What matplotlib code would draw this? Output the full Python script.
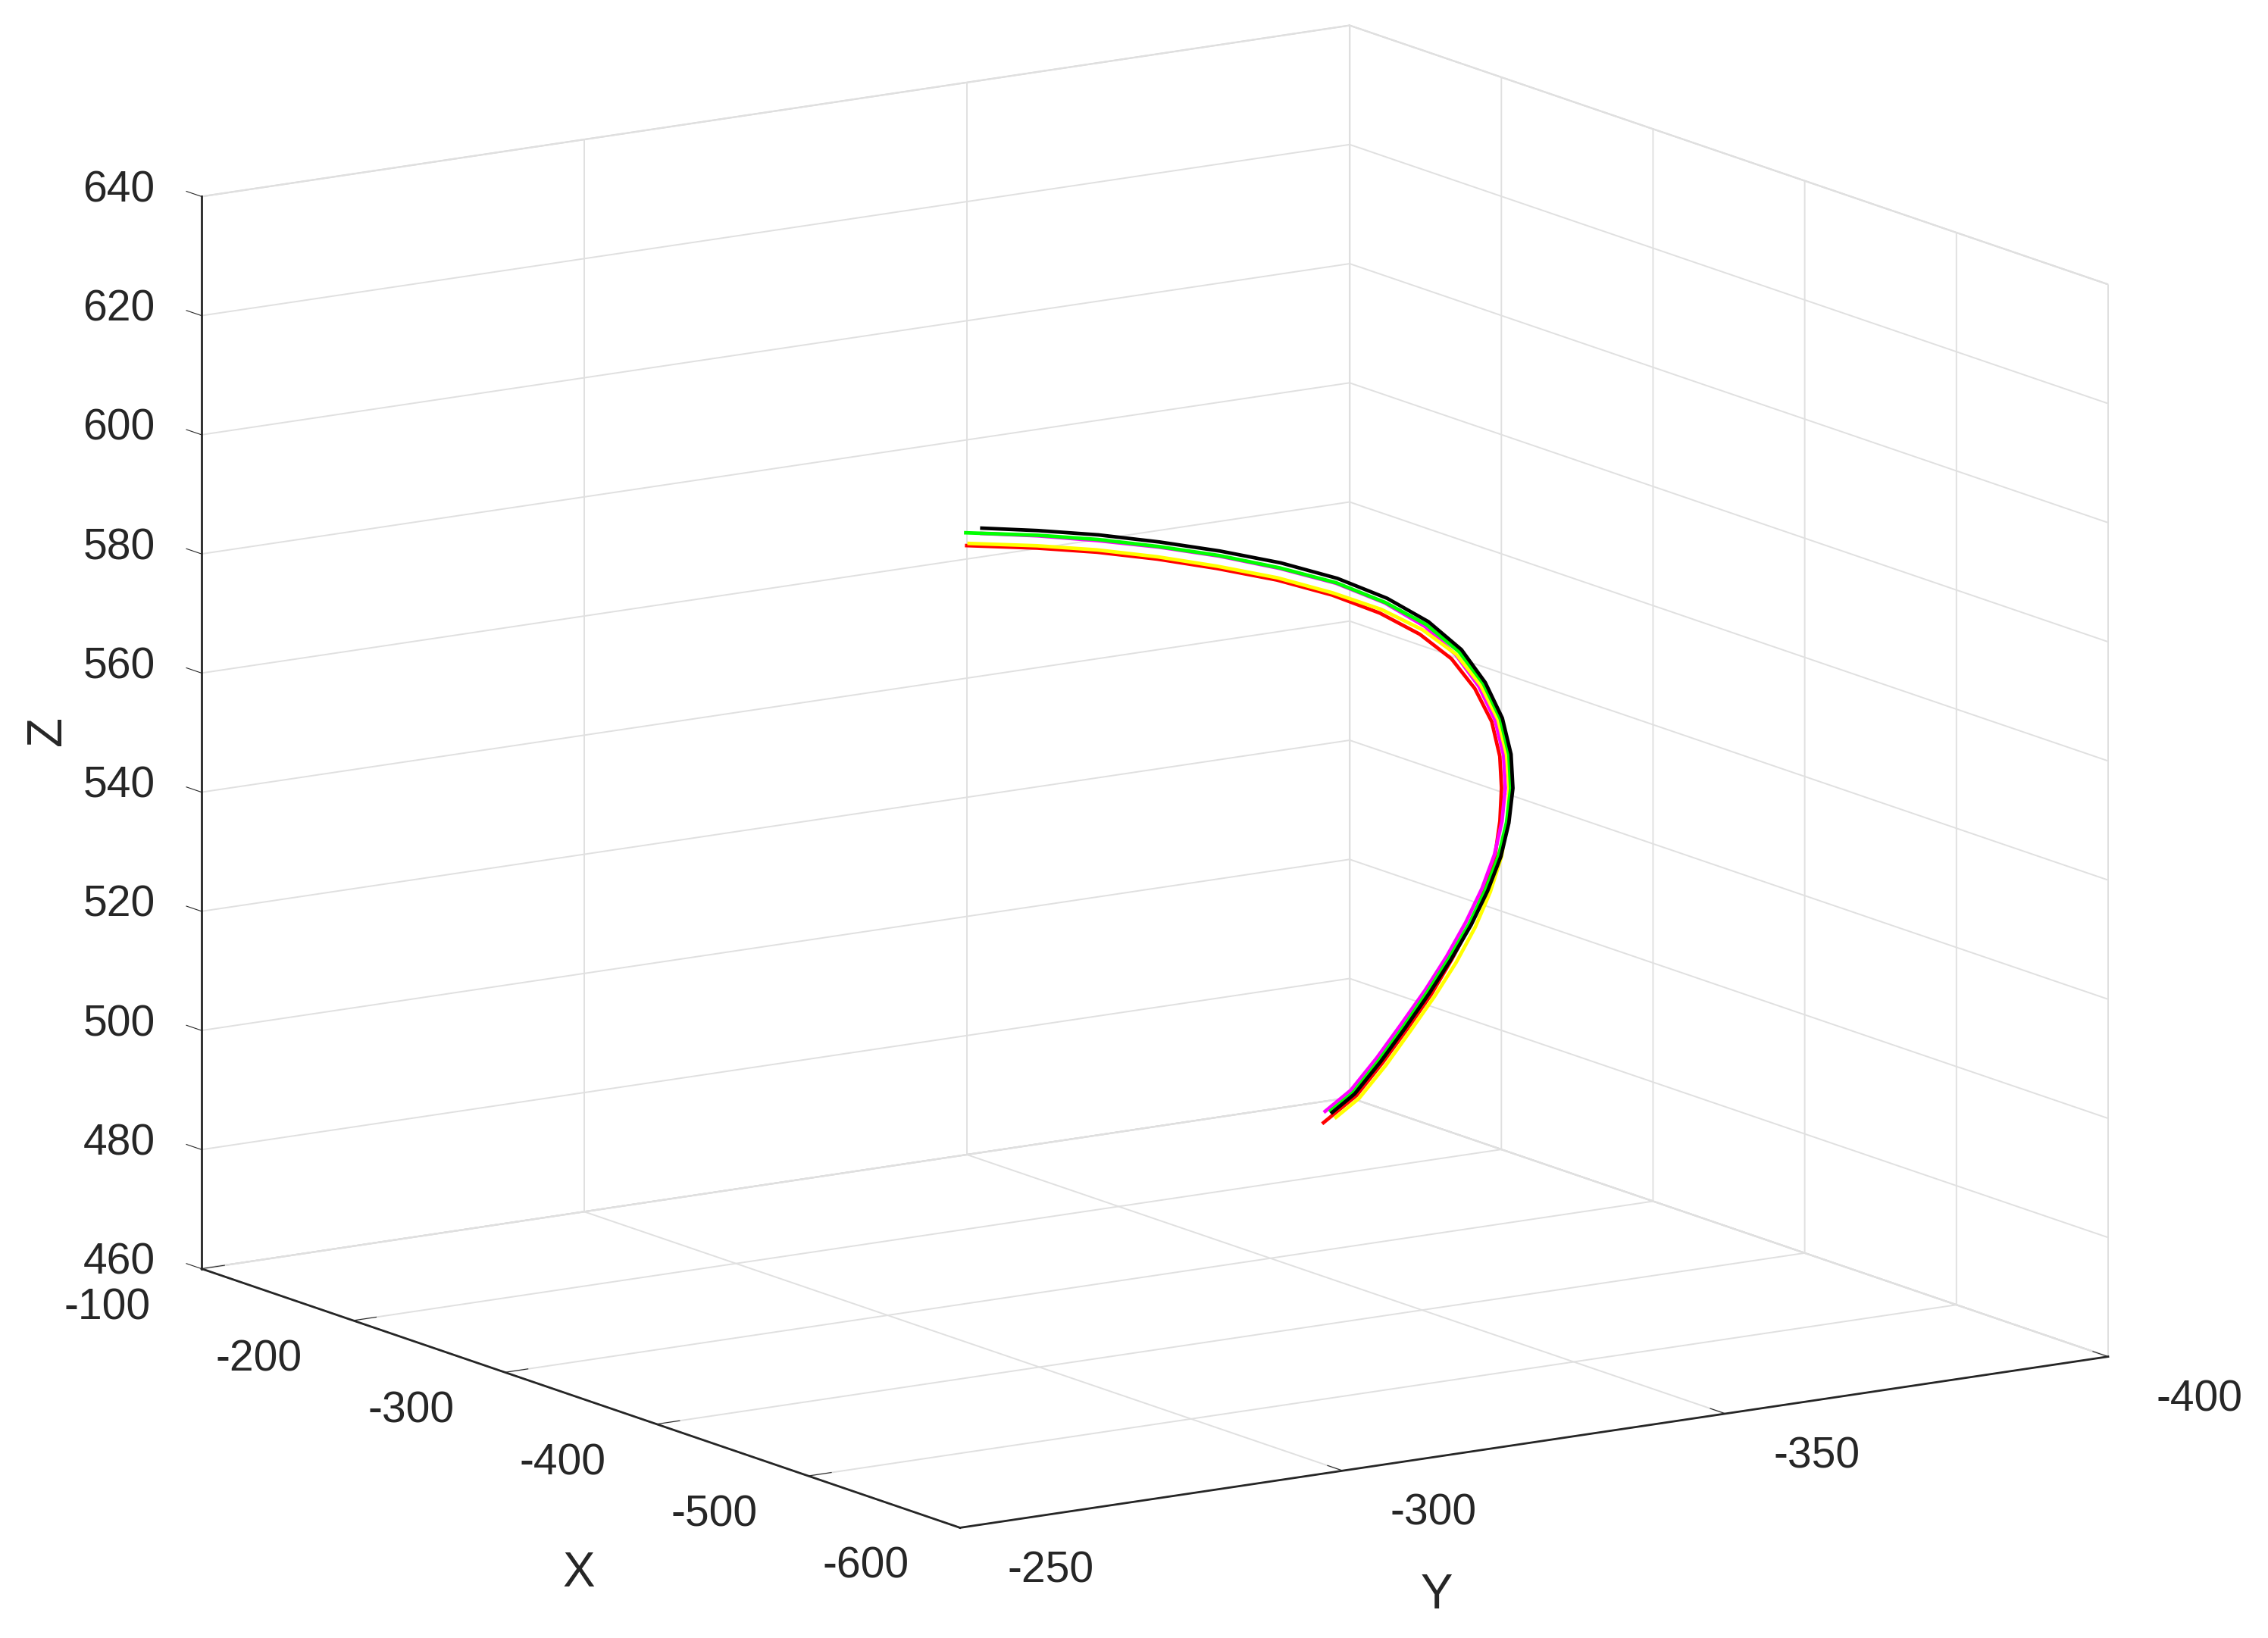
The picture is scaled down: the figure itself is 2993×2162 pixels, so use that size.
import numpy as np
import matplotlib
matplotlib.use("Agg")
import matplotlib.pyplot as plt
from matplotlib.ticker import NullFormatter
from mpl_toolkits.mplot3d import proj3d

plt.rcParams['font.family'] = ['Liberation Sans', 'DejaVu Sans']
plt.rcParams['axes.unicode_minus'] = False

# ---- data: five tracked trajectories (x, y, z) ----
traj_y = [-325.0, -325.8, -326.5, -327.3, -328.0, -328.8, -329.5, -330.3, -331.0, -331.8, -332.5, -333.3,
          -334.0, -334.8, -335.5, -336.3, -337.0, -337.8, -338.5, -339.3, -340.0, -340.8, -341.5, -342.3]

black_x = [-234.8, -269.0, -305.3, -341.5, -377.7, -413.9, -447.6, -476.4, -500.1, -517.8, -530.0, -537.2,
           -539.4, -536.6, -530.4, -521.1, -508.8, -494.0, -477.2, -458.9, -439.6, -419.3, -398.5, -378.7]
black_z = [581.7, 584.1, 586.4, 588.2, 589.7, 590.7, 590.9, 589.9, 587.9, 584.6, 580.0, 574.5,
           568.5, 562.4, 555.9, 549.3, 542.3, 535.2, 527.8, 520.4, 512.8, 505.2, 497.8, 492.6]

green_x = [-224.2, -268.8, -305.0, -341.1, -377.2, -413.2, -446.7, -475.1, -498.7, -516.3, -528.7, -535.8,
           -538.0, -535.1, -528.9, -519.6, -507.4, -492.6, -475.9, -457.6, -438.4, -418.1, -397.4, -377.7]
green_z = [580.0, 583.3, 585.6, 587.4, 588.9, 589.8, 590.1, 589.1, 587.3, 584.1, 579.7, 574.3,
           568.3, 562.2, 555.9, 549.3, 542.4, 535.2, 527.9, 520.5, 512.9, 505.3, 497.9, 492.8]

magenta_x = [-234.7, -268.8, -304.9, -341.0, -377.1, -413.1, -446.6, -474.9, -497.8, -514.2, -525.7, -532.5,
             -534.5, -531.6, -525.9, -516.8, -505.1, -490.4, -474.2, -456.0, -436.7, -416.5, -396.0, -374.1]
magenta_z = [580.8, 583.2, 585.4, 587.3, 588.8, 589.7, 590.0, 589.0, 586.9, 583.4, 579.0, 573.7,
             567.9, 562.0, 555.8, 549.2, 542.4, 535.3, 528.0, 520.6, 513.1, 505.5, 498.2, 492.4]

yellow_x = [-226.4, -268.4, -304.4, -340.2, -376.0, -411.6, -444.5, -472.7, -496.4, -514.5, -527.0, -534.4,
            -536.5, -534.1, -529.4, -521.5, -510.6, -496.6, -480.6, -462.2, -442.8, -422.5, -401.4, -381.2]
yellow_z = [578.4, 581.5, 583.8, 585.6, 587.0, 588.0, 588.2, 587.7, 586.2, 583.5, 579.3, 574.0,
            568.1, 562.2, 555.9, 549.3, 542.3, 535.0, 527.6, 520.1, 512.5, 504.8, 497.3, 492.0]

red_x = [-224.8, -268.3, -304.2, -340.0, -375.7, -411.3, -444.1, -471.6, -494.4, -511.2, -523.1, -530.2,
         -532.0, -529.1, -524.5, -517.3, -506.9, -493.5, -477.6, -460.1, -440.8, -420.5, -399.6, -373.0]
red_z = [577.9, 581.1, 583.4, 585.2, 586.6, 587.6, 587.8, 587.0, 585.3, 582.5, 578.4, 573.3,
         567.5, 561.8, 555.7, 549.2, 542.4, 535.2, 527.8, 520.3, 512.7, 505.1, 497.6, 490.4]

x_ticks = [-100, -200, -300, -400, -500, -600]
y_ticks = [-250, -300, -350, -400]
z_ticks = [460, 480, 500, 520, 540, 560, 580, 600, 620, 640]

txt = '#262626'
XL, YL, ZL = (-100, -600), (-250, -400), (460, 640)

fig = plt.figure(figsize=(29.93, 21.62), dpi=100)
ax = fig.add_axes([-0.1, -0.3, 1.2, 1.6], projection='3d', proj_type='ortho')
ax.view_init(elev=13.04, azim=-33.45)
ax.set_box_aspect((1, 1, 0.8))

style = dict(lw=3.4, solid_joinstyle='round', solid_capstyle='butt')
ax.plot(red_x, traj_y, red_z, color='#ff0000', **style)
ax.plot(magenta_x, traj_y, magenta_z, color='#ff00ff', **style)
ax.plot(yellow_x, traj_y, yellow_z, color='#ffff00', **style)
ax.plot(green_x, traj_y, green_z, color='#00ff00', **style)
ax.plot(black_x, traj_y, black_z, color='#000000', **style)

ax.set_xlim(*XL)
ax.set_ylim(*YL)
ax.set_zlim(*ZL)
ax.set_xticks(x_ticks)
ax.set_yticks(y_ticks)
ax.set_zticks(z_ticks)
ax.zaxis.set_ticks_position('upper')

for axis in (ax.xaxis, ax.yaxis, ax.zaxis):
    axis.set_pane_color((1, 1, 1, 1))
    axis.pane.set_edgecolor('#d6d6d6')
    axis.pane.set_linewidth(1.6)
    axis._axinfo['grid'].update(color='#e0e0e0', linewidth=1.4)
    axis._axinfo['tick']['inward_factor'] = 0.0
    axis._axinfo['tick']['outward_factor'] = 0.25
    axis.line.set_color(txt)
    axis.line.set_linewidth(2.0)
    axis.set_major_formatter(NullFormatter())
ax.tick_params(axis='both', color=txt, width=2)
ax.tick_params(axis='z', color=txt, width=2)

# tick labels placed MATLAB-style just outside the box
tfs = 41
for t in x_ticks:
    ax.text(t, YL[0] + 12.3, ZL[0] - 4.2, str(t), fontsize=tfs, color=txt, ha='center', va='center')
for t in y_ticks:
    ax.text(XL[1] - 60, t, ZL[0] - 2.0, str(t), fontsize=tfs, color=txt, ha='center', va='center')
for t in z_ticks:
    ax.text(XL[0] + 24.7, YL[0] + 5.9, t, str(t), fontsize=tfs, color=txt, ha='center', va='center')

fig.text(0.2553, 0.0393, 'X', fontsize=46, color=txt, ha='center', va='center')
fig.text(0.6335, 0.0259, 'Y', fontsize=46, color=txt, ha='center', va='center')
fig.text(0.0210, 0.5541, 'Z', fontsize=46, color=txt, ha='center', va='center', rotation=90)

# fit the projected box to the reference frame
corners = np.array([(a, b, c) for a in XL for b in YL for c in ZL]).T


def box_extent():
    fig.canvas.draw()
    px, py, _ = proj3d.proj_transform(*corners, ax.get_proj())
    pts = ax.transData.transform(np.column_stack([px, py]))
    return pts[:, 0].min(), pts[:, 0].max(), pts[:, 1].min(), pts[:, 1].max()


x0, x1, y0, y1 = box_extent()
ax.set_box_aspect((1, 1, 0.8), zoom=(2782 - 266) / (x1 - x0))
x0, x1, y0, y1 = box_extent()
W, H = fig.bbox.width, fig.bbox.height
shift_x = (266 + 2782) / 2 - (x0 + x1) / 2
shift_y = (H - (38 + 2012) / 2) - (y0 + y1) / 2
p = ax.get_position(original=True)
ax.set_position([p.x0 + shift_x / W, p.y0 + shift_y / H, p.width, p.height])

fig.savefig('out.png', dpi=100, facecolor='white')
